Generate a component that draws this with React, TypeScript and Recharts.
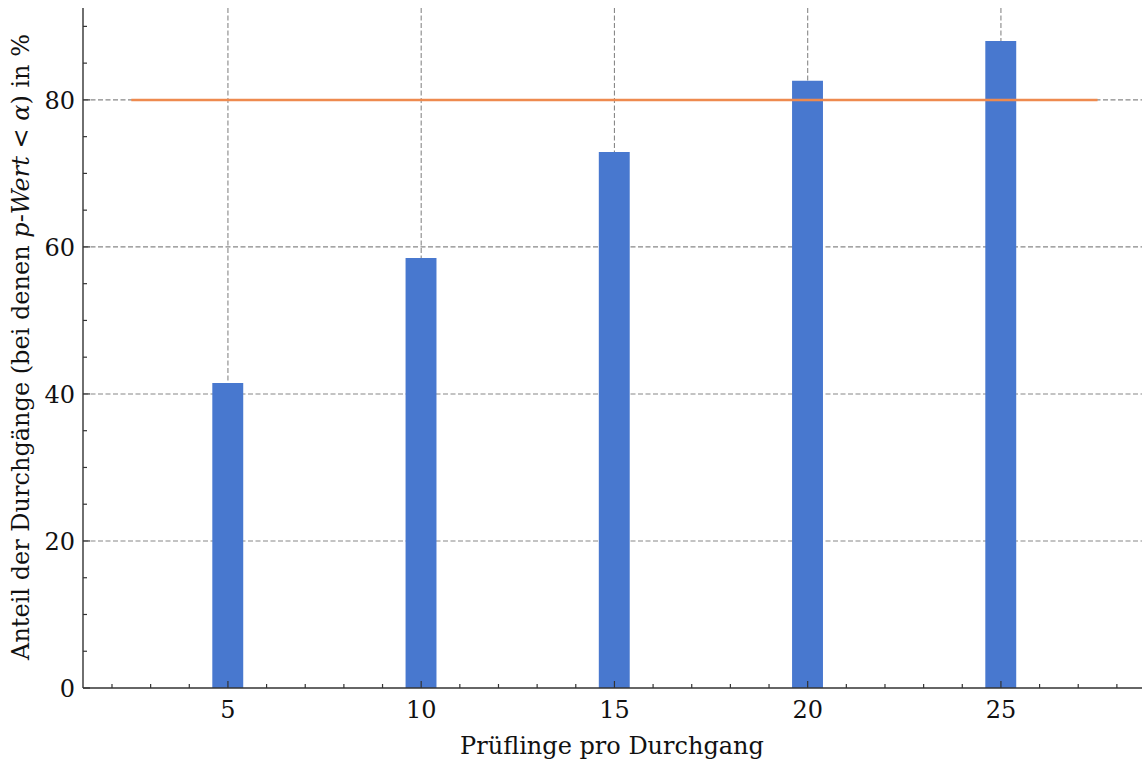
import React from "react";
import {
  ComposedChart,
  Bar,
  XAxis,
  YAxis,
  CartesianGrid,
  ReferenceLine,
} from "recharts";

// Prüflinge pro Durchgang vs. share of runs with p < alpha
const pruflinge = [5, 10, 15, 20, 25];
const anteil = [41.5, 58.5, 72.9, 82.6, 88.0];
const zielLinie = 80;
const zielVon = 2.5;
const zielBis = 27.5;

const xMajor = [5, 10, 15, 20, 25];
const yMajor = [0, 20, 40, 60, 80];
const xDomain: [number, number] = [1.25, 28.65];
const yDomain: [number, number] = [0, 92.5];

const xAll = Array.from({ length: 27 }, (_, i) => i + 2);
const yAll = Array.from({ length: 19 }, (_, i) => i * 5);

const W = 1142;
const H = 767;
const M = { top: 8, right: 0, bottom: 79, left: 83 };
const FONT = "DejaVu Serif";
const FS = 24;
const AXIS = "#333";
const BLUE = "#4878CF";
const ORANGE = "#EE8A4F";

const data = pruflinge.map((x, i) => ({ x, anteil: anteil[i] }));

const plotW = W - M.left - M.right;
const barWidth = (0.8 * plotW) / (xDomain[1] - xDomain[0]);

// grid only at the labelled ticks, mapped through the plot offset
const gridX = ({ offset }: any) =>
  xMajor.map((v) => offset.left + ((v - xDomain[0]) / (xDomain[1] - xDomain[0])) * offset.width);
const gridY = ({ offset }: any) =>
  yMajor
    .slice(1)
    .map((v) => offset.top + offset.height - ((v - yDomain[0]) / (yDomain[1] - yDomain[0])) * offset.height);

const BottomTick = (props: any) => {
  const { x, y, payload } = props;
  const major = xMajor.includes(payload.value);
  return (
    <g>
      <line x1={x} x2={x} y1={y} y2={y - (major ? 7 : 4)} stroke={AXIS} strokeWidth={1.2} />
      {major && (
        <text x={x} y={y + 30} textAnchor="middle" fontFamily={FONT} fontSize={FS} fill="#111">
          {payload.value}
        </text>
      )}
    </g>
  );
};

const TopTick = (props: any) => {
  const { x, y, payload } = props;
  const major = xMajor.includes(payload.value);
  return <line x1={x} x2={x} y1={y} y2={y + (major ? 7 : 4)} stroke={AXIS} strokeWidth={1.2} />;
};

const LeftTick = (props: any) => {
  const { x, y, payload } = props;
  const major = yMajor.includes(payload.value);
  return (
    <g>
      <line x1={x} x2={x + (major ? 7 : 4)} y1={y} y2={y} stroke={AXIS} strokeWidth={1.2} />
      {major && (
        <text x={x - 8} y={y + 9} textAnchor="end" fontFamily={FONT} fontSize={FS} fill="#111">
          {payload.value}
        </text>
      )}
    </g>
  );
};

const RightTick = (props: any) => {
  const { x, y, payload } = props;
  const major = yMajor.includes(payload.value);
  return <line x1={x} x2={x - (major ? 7 : 4)} y1={y} y2={y} stroke={AXIS} strokeWidth={1.2} />;
};

export default function App() {
  return (
    <div style={{ position: "absolute", left: 0, top: 0, background: "#fff" }}>
      <ComposedChart width={W} height={H} data={data} margin={{ top: M.top, right: M.right, left: 0, bottom: 0 }}>
        <CartesianGrid
          stroke="#888"
          strokeDasharray="5 2.5"
          strokeWidth={1.1}
          verticalCoordinatesGenerator={gridX}
          horizontalCoordinatesGenerator={gridY}
        />
        <XAxis
          dataKey="x"
          type="number"
          domain={xDomain}
          ticks={xAll}
          interval={0}
          allowDataOverflow
          height={M.bottom}
          tickSize={0}
          tickMargin={0}
          tickLine={false}
          axisLine={{ stroke: AXIS, strokeWidth: 1.4 }}
          tick={<BottomTick />}
        />
        <XAxis
          xAxisId="top"
          orientation="top"
          dataKey="x"
          type="number"
          domain={xDomain}
          ticks={xAll}
          interval={0}
          allowDataOverflow
          height={0}
          tickSize={0}
          tickMargin={0}
          tickLine={false}
          axisLine={{ stroke: AXIS, strokeWidth: 1.4 }}
          tick={<TopTick />}
        />
        <YAxis
          type="number"
          domain={yDomain}
          ticks={yAll}
          interval={0}
          allowDataOverflow
          width={M.left}
          tickSize={0}
          tickMargin={0}
          tickLine={false}
          axisLine={{ stroke: AXIS, strokeWidth: 1.4 }}
          tick={<LeftTick />}
        />
        <YAxis
          yAxisId="right"
          orientation="right"
          type="number"
          domain={yDomain}
          ticks={yAll}
          interval={0}
          allowDataOverflow
          width={0}
          tickSize={0}
          tickMargin={0}
          tickLine={false}
          axisLine={{ stroke: AXIS, strokeWidth: 1.4 }}
          tick={<RightTick />}
        />
        <Bar dataKey="anteil" fill={BLUE} barSize={barWidth} isAnimationActive={false} />
        <ReferenceLine
          segment={[
            { x: zielVon, y: zielLinie },
            { x: zielBis, y: zielLinie },
          ]}
          stroke={ORANGE}
          strokeWidth={2.5}
        />
        <text x={612} y={754} textAnchor="middle" fontFamily={FONT} fontSize={FS} fill="#111">
          Prüflinge pro Durchgang
        </text>
        <text
          transform="translate(29, 347) rotate(-90)"
          textAnchor="middle"
          fontFamily={FONT}
          fontSize={FS}
          fill="#111"
        >
          <tspan>Anteil der Durchgänge (bei denen </tspan>
          <tspan fontStyle="italic">p</tspan>
          <tspan>-</tspan>
          <tspan fontStyle="italic">Wert</tspan>
          <tspan> &lt; </tspan>
          <tspan fontStyle="italic">α</tspan>
          <tspan>) in %</tspan>
        </text>
      </ComposedChart>
    </div>
  );
}
